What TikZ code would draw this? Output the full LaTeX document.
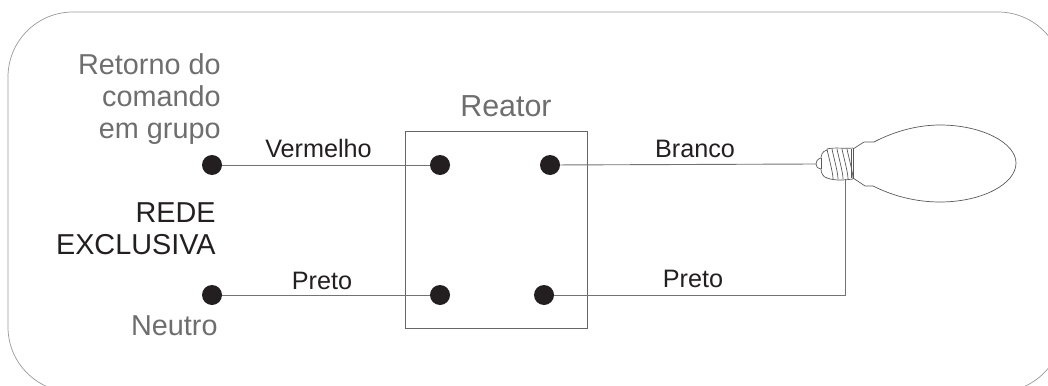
\documentclass[tikz,border=0pt]{standalone}
\usepackage{fontspec}
\setmainfont{Liberation Sans}
\usepackage{xcolor}
\usetikzlibrary{positioning}
\definecolor{greytext}{HTML}{6E6E6E}
\definecolor{darktext}{HTML}{231F20}

\begin{document}
\begin{tikzpicture}[x=0.5pt, y=-0.5pt,
    terminal/.style={circle, fill=darktext, inner sep=0pt, minimum size=10pt},
    wire/.style={draw=black!55, line width=0.45pt},
    biglabel/.style={font=\fontsize{14.4}{16}\selectfont, inner sep=0pt, align=right},
    wirelabel/.style={font=\fontsize{12.6}{15}\selectfont, text=darktext, inner sep=0pt, anchor=base},
    outline/.style={draw=black!40, line width=0.35pt},
    lampline/.style={draw=black!65, line width=0.35pt}]
    \useasboundingbox (0,0) rectangle (1048,385);

    % Outer frame
    \begin{scope}
        \clip (0,0) rectangle (1048,385);
        \draw[outline, rounded corners=32.5pt] (8,12) rectangle (1063,392);
    \end{scope}

    % Reactor box
    \node[draw=black!60, line width=0.45pt, inner sep=0pt, minimum width=91pt, minimum height=98.5pt] (reator) at (496,229.5) {};
    \node[biglabel, text=greytext, font=\fontsize{15.2}{16}\selectfont, anchor=base] (reatorlabel) at (506,117) {Reator};

    % Terminals
    \node[terminal] (retorno) at (212,165) {};
    \node[terminal] (neutro) at (212,295) {};
    \node[terminal] (reatorA) at (440,165) {};
    \node[terminal] (reatorB) at (440,295) {};
    \node[terminal] (reatorC) at (550,165) {};
    \node[terminal] (reatorD) at (544,295) {};

    % Lamp
    \coordinate (tip) at (816,164);
    \coordinate (corner) at (845,295);
    \coordinate (base) at (845,179);
    \draw[lampline] (853,149) -- (864,142) -- (874,142)
        .. controls (895,131) and (918,125) .. (940,125)
        .. controls (982,125) and (1016,143) .. (1016,163)
        .. controls (1016,184) and (982,202) .. (940,202)
        .. controls (918,202) and (895,197) .. (873,186)
        -- (865,186) -- (853,178);
    \draw[lampline] (827,150) .. controls (822,151) and (821,156) .. (821,158)
        .. controls (817,159) and (816,162) .. (816,164)
        .. controls (816,167) and (818,169) .. (821,169)
        .. controls (821,173) and (823,177) .. (827,178);
    \draw[lampline] (821,158) -- (821,169);
    \foreach \xa in {827,832,837,842,847}
        \draw[lampline] (\xa,149) .. controls (\xa+1,155) and (\xa+6,172) .. (\xa+6,179);
    \draw[lampline] (827,149) .. controls (835,147) and (845,149) .. (853,148);
    \draw[lampline] (827,178) .. controls (835,181) and (845,180) .. (853,179);
    \draw[lampline] (853,148) -- (853,179);
    \draw[lampline] (851,149) -- (851,178);

    % Wires
    \draw[wire] (retorno) -- (reatorA);
    \draw[wire] (neutro) -- (reatorB);
    \draw[wire] (reatorC) -- (tip);
    \draw[wire] (reatorD) -- (corner) -- (base);

    % Wire labels
    \node[wirelabel] (vermelho) at (318.5,157) {Vermelho};
    \node[wirelabel] (pretoA) at (322,289) {Preto};
    \node[wirelabel] (branco) at (695,157) {Branco};
    \node[wirelabel] (pretoB) at (693,287) {Preto};

    % Side labels
    \node[biglabel, text=greytext, anchor=east] (retornolabel) at (221,99) {Retorno do\\comando\\em grupo};
    \node[biglabel, text=darktext, anchor=east] (redelabel) at (216,229) {REDE\\EXCLUSIVA};
    \node[biglabel, text=greytext, anchor=base east] (neutrolabel) at (218,335) {Neutro};
\end{tikzpicture}
\end{document}
